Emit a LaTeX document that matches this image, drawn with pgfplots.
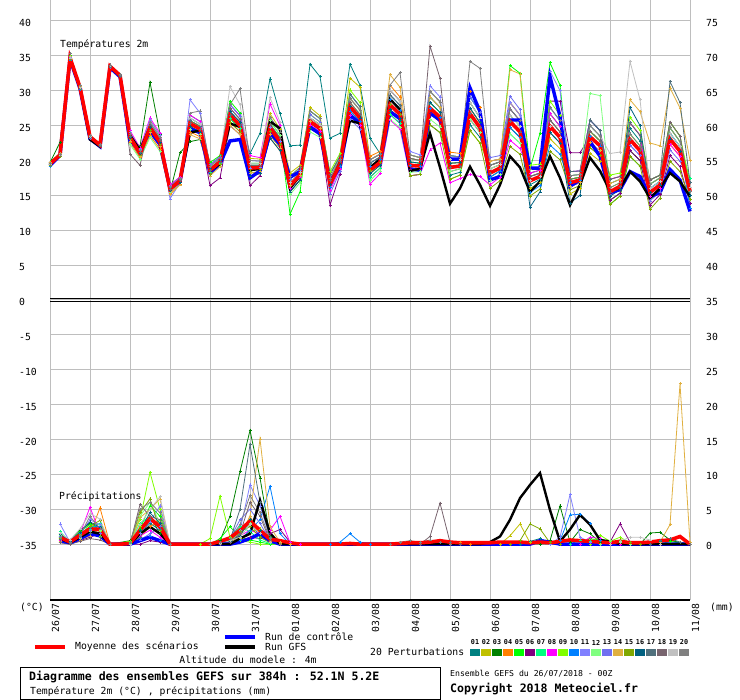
\documentclass[border=0pt]{standalone}
\usepackage{fontspec}
\setmainfont{DejaVu Sans Mono}
\usepackage{pgfplots}
\pgfplotsset{compat=1.18}
\definecolor{c01}{RGB}{0,128,128}
\definecolor{c02}{RGB}{192,192,0}
\definecolor{c03}{RGB}{0,128,0}
\definecolor{c04}{RGB}{255,128,0}
\definecolor{c05}{RGB}{0,255,0}
\definecolor{c06}{RGB}{128,0,128}
\definecolor{c07}{RGB}{0,255,128}
\definecolor{c08}{RGB}{255,0,255}
\definecolor{c09}{RGB}{128,255,0}
\definecolor{c10}{RGB}{0,128,255}
\definecolor{c11}{RGB}{128,128,255}
\definecolor{c12}{RGB}{128,255,128}
\definecolor{c13}{RGB}{112,112,240}
\definecolor{c14}{RGB}{224,176,64}
\definecolor{c15}{RGB}{128,168,0}
\definecolor{c16}{RGB}{0,96,128}
\definecolor{c17}{RGB}{80,112,124}
\definecolor{c18}{RGB}{120,100,110}
\definecolor{c19}{RGB}{192,192,192}
\definecolor{c20}{RGB}{128,128,128}
\definecolor{gridc}{RGB}{190,190,190}
\definecolor{ctrlb}{RGB}{0,0,255}
\newcommand\lab{\fontsize{9.8}{11}\selectfont}
\newcommand\sml{\fontsize{8.2}{10}\selectfont}
\newcommand\bld{\fontsize{11.6}{13}\selectfont\bfseries}
\newcommand\pnum{\fontsize{6.8}{8}\selectfont\bfseries}
\tikzset{dl/.style={rotate=90, anchor=east, inner sep=0pt, font=\lab}}
\pgfplotsset{
  pert/.style={line width=0.8bp, mark=+, mark size=1.5bp, mark options={solid, line width=0.6bp}},
  meanst/.style={red, line width=3.6bp, no marks},
  ctrlst/.style={ctrlb, line width=3.4bp, no marks},
  gfsst/.style={black, line width=2.4bp, no marks},
}
\begin{document}
\begin{tikzpicture}[x=1bp,y=1bp]
\useasboundingbox (0,0) rectangle (740,700);
\begin{axis}[at={(50bp,100bp)}, anchor=south west, scale only axis,
  width=640bp, height=600bp, xmin=0, xmax=64, ymin=-43, ymax=43, clip=false,
  axis line style={draw=none}, major tick length=0pt,
  xtick={0,4,...,64}, xticklabel={\mbox{}},
  ytick={-35,-30,...,40},
  yticklabels={-35,-30,-25,-20,-15,-10,-5,0,5,10,15,20,25,30,35,40},
  yticklabel style={font=\lab, anchor=west, inner sep=0pt, xshift=-31bp, yshift=-2bp},
  grid=major, grid style={draw=gridc, line width=1bp},
  table/row sep=\\, table/header=false, table/x expr=\coordindex, table/y index=0]
\addplot[pert,c01] table {19.6\\20.9\\34.8\\30.6\\23.4\\22.2\\33.5\\32.2\\23.8\\21.4\\25.4\\23.3\\16.5\\17.6\\26.5\\25.6\\19.4\\20.5\\28.0\\26.4\\21.0\\23.9\\31.7\\26.7\\22.1\\22.2\\33.8\\32.0\\23.2\\23.9\\33.8\\30.8\\23.2\\21.0\\27.0\\25.7\\20.3\\20.0\\29.1\\27.6\\17.9\\18.3\\25.1\\23.3\\18.8\\19.4\\26.5\\24.9\\16.5\\17.3\\24.0\\22.5\\18.4\\18.5\\25.8\\24.3\\16.7\\17.3\\24.6\\22.8\\16.0\\17.0\\23.9\\22.0\\15.0\\};
\addplot[pert,c02] table {19.4\\20.7\\34.6\\30.4\\23.5\\22.3\\33.6\\32.3\\24.0\\21.6\\25.8\\23.6\\16.1\\17.3\\25.7\\24.9\\19.2\\20.3\\27.5\\25.9\\20.3\\20.2\\26.7\\24.5\\18.2\\19.3\\27.6\\26.4\\18.0\\20.6\\31.8\\30.5\\20.1\\20.9\\30.1\\28.5\\19.8\\19.6\\28.3\\26.9\\20.1\\20.1\\28.3\\26.1\\19.9\\20.2\\28.3\\26.5\\16.0\\16.8\\23.1\\21.7\\15.2\\16.0\\21.0\\19.9\\16.1\\16.8\\23.8\\22.1\\16.6\\17.5\\24.7\\22.7\\16.2\\};
\addplot[pert,c03] table {19.7\\22.6\\34.9\\30.7\\23.5\\22.3\\33.6\\32.3\\23.3\\22.0\\31.2\\23.8\\15.5\\21.1\\22.7\\23.0\\18.3\\19.6\\26.0\\24.6\\19.3\\19.3\\25.2\\23.2\\15.5\\17.2\\24.6\\23.7\\16.1\\19.1\\27.1\\25.6\\19.6\\20.5\\29.4\\27.9\\17.8\\18.0\\25.1\\24.0\\19.6\\19.7\\27.5\\25.4\\17.6\\18.5\\24.7\\23.3\\18.2\\18.6\\26.7\\24.9\\17.3\\17.6\\24.2\\22.8\\14.3\\15.3\\21.4\\20.0\\17.2\\17.9\\25.5\\23.5\\15.6\\};
\addplot[pert,c04] table {19.5\\20.8\\34.7\\30.5\\23.3\\22.1\\33.4\\32.1\\22.6\\20.4\\23.6\\21.6\\15.3\\16.6\\24.1\\23.4\\18.0\\19.4\\25.5\\24.1\\17.8\\18.1\\23.2\\21.4\\16.8\\18.3\\26.1\\25.1\\17.5\\20.2\\28.9\\27.2\\20.6\\21.3\\30.8\\29.1\\20.8\\20.4\\29.9\\28.4\\21.2\\21.0\\29.9\\27.6\\19.9\\20.2\\28.3\\26.5\\17.7\\18.2\\25.8\\24.1\\17.8\\18.0\\25.0\\23.5\\17.3\\17.7\\25.4\\23.6\\14.8\\16.0\\22.3\\20.6\\16.8\\};
\addplot[pert,c05] table {19.8\\21.0\\35.0\\30.8\\23.4\\22.2\\33.5\\32.2\\23.5\\21.2\\25.1\\22.9\\16.3\\17.4\\26.1\\25.2\\19.7\\20.7\\28.5\\26.8\\19.6\\19.6\\25.7\\23.6\\12.3\\15.5\\26.1\\25.1\\18.0\\20.6\\29.5\\27.7\\19.1\\20.1\\28.7\\27.2\\20.3\\20.0\\29.1\\27.6\\20.7\\20.5\\29.1\\26.9\\19.3\\19.8\\33.6\\32.5\\18.8\\23.9\\34.0\\30.8\\17.3\\17.6\\24.2\\22.8\\13.7\\14.9\\20.6\\19.2\\16.6\\17.5\\24.7\\22.7\\14.4\\};
\addplot[pert,c06] table {19.5\\20.8\\34.7\\30.5\\23.5\\22.3\\33.6\\32.3\\23.1\\20.8\\24.3\\22.3\\15.5\\16.8\\24.5\\23.8\\16.4\\17.5\\25.0\\23.7\\16.4\\17.8\\23.7\\21.8\\15.5\\17.2\\24.6\\23.7\\13.6\\18.0\\26.5\\25.0\\17.6\\18.9\\26.6\\25.3\\18.8\\18.8\\26.7\\25.5\\18.4\\18.8\\25.9\\24.0\\19.3\\19.8\\27.4\\25.7\\17.1\\17.7\\28.5\\28.5\\21.1\\21.1\\23.4\\22.1\\14.3\\15.3\\21.4\\20.0\\13.6\\15.1\\20.7\\19.1\\13.8\\};
\addplot[pert,c07] table {19.3\\20.6\\34.5\\30.3\\23.6\\22.3\\33.7\\32.3\\23.8\\21.4\\25.4\\23.3\\15.9\\17.1\\25.3\\24.5\\18.3\\19.6\\26.0\\24.6\\19.3\\19.3\\25.2\\23.2\\17.7\\19.0\\27.1\\26.0\\17.1\\19.9\\28.3\\26.6\\17.6\\18.9\\26.6\\25.3\\19.8\\19.6\\28.3\\26.9\\20.1\\20.1\\28.3\\26.1\\17.1\\18.0\\23.8\\22.5\\18.8\\19.0\\27.6\\25.7\\17.8\\18.0\\25.0\\23.5\\15.5\\16.3\\23.0\\21.4\\16.0\\17.0\\23.9\\22.0\\17.4\\};
\addplot[pert,c08] table {19.7\\21.0\\34.9\\30.7\\23.3\\22.1\\33.4\\32.1\\24.3\\21.8\\26.1\\23.9\\16.5\\17.6\\26.5\\25.6\\19.4\\20.5\\28.0\\26.4\\20.7\\20.4\\28.1\\25.0\\16.0\\17.6\\25.1\\24.2\\15.7\\18.8\\26.5\\25.0\\16.6\\18.1\\25.8\\24.5\\17.8\\18.0\\21.5\\22.5\\16.8\\17.4\\18.0\\17.7\\16.5\\17.6\\22.9\\21.7\\18.2\\18.6\\26.7\\24.9\\18.4\\18.5\\25.8\\24.3\\17.3\\17.7\\25.4\\23.6\\14.8\\16.0\\22.3\\20.6\\16.2\\};
\addplot[pert,c09] table {19.6\\20.9\\34.8\\30.6\\23.6\\22.3\\33.7\\32.3\\23.3\\21.0\\24.7\\22.6\\16.1\\17.3\\25.7\\24.9\\18.9\\20.0\\27.0\\25.5\\18.2\\18.4\\23.7\\21.8\\17.3\\18.6\\26.6\\25.5\\18.4\\21.0\\30.1\\28.3\\18.1\\19.3\\27.3\\26.0\\20.8\\20.4\\29.9\\28.4\\17.3\\17.9\\24.3\\22.5\\18.8\\19.4\\26.5\\24.9\\19.3\\19.5\\28.5\\26.5\\17.3\\17.6\\24.2\\22.8\\17.9\\18.2\\26.2\\24.3\\17.2\\17.9\\25.5\\23.5\\16.8\\};
\addplot[pert,c10] table {19.2\\20.6\\34.4\\30.2\\23.2\\22.1\\33.3\\32.1\\22.8\\20.6\\24.0\\22.0\\15.7\\16.9\\24.9\\24.1\\18.9\\20.0\\27.0\\25.5\\18.9\\19.0\\24.7\\22.7\\16.4\\17.9\\25.6\\24.6\\16.1\\19.1\\27.1\\25.6\\19.1\\20.1\\28.7\\27.2\\19.3\\19.2\\27.5\\26.2\\20.7\\20.5\\29.1\\26.9\\17.6\\18.5\\24.7\\23.3\\15.4\\16.4\\22.2\\20.9\\16.8\\17.2\\23.4\\22.1\\15.5\\16.3\\23.0\\21.4\\16.0\\17.0\\23.9\\22.0\\13.2\\};
\addplot[pert,c11] table {19.6\\20.9\\34.8\\30.6\\23.6\\22.3\\33.7\\32.3\\24.0\\21.6\\25.8\\23.6\\14.5\\16.8\\28.7\\26.8\\19.2\\20.3\\27.5\\25.9\\18.9\\19.0\\24.7\\22.7\\16.8\\18.3\\26.1\\25.1\\18.0\\20.6\\29.5\\27.7\\19.6\\20.5\\29.4\\27.9\\21.3\\20.8\\30.7\\29.1\\19.0\\19.2\\26.7\\24.7\\19.9\\20.2\\28.3\\26.5\\17.7\\18.1\\32.8\\30.0\\17.8\\18.0\\25.0\\23.5\\14.9\\15.8\\22.2\\20.7\\15.4\\16.5\\23.1\\21.3\\16.2\\};
\addplot[pert,c12] table {19.4\\20.7\\34.6\\30.4\\23.4\\22.2\\33.5\\32.2\\22.3\\20.2\\23.3\\21.3\\15.5\\16.8\\24.5\\23.8\\18.6\\19.8\\26.5\\25.0\\19.6\\19.6\\25.7\\23.6\\15.1\\16.8\\24.1\\23.3\\16.6\\19.5\\27.7\\26.1\\17.1\\18.5\\25.9\\24.7\\18.3\\18.4\\25.9\\24.8\\18.4\\18.8\\25.9\\24.0\\17.1\\18.0\\23.8\\22.5\\17.7\\18.2\\25.8\\24.1\\17.8\\18.0\\29.6\\29.3\\16.1\\16.8\\23.8\\22.1\\16.6\\17.5\\24.7\\22.7\\15.6\\};
\addplot[pert,c13] table {19.5\\20.8\\34.7\\30.5\\23.2\\22.1\\33.3\\32.1\\23.5\\21.2\\25.1\\22.9\\16.3\\17.4\\26.1\\25.2\\19.4\\20.5\\28.0\\26.4\\20.0\\19.9\\26.2\\24.1\\17.3\\18.6\\26.6\\25.5\\15.2\\18.4\\25.9\\24.5\\20.1\\20.9\\30.1\\28.5\\20.3\\20.0\\29.1\\27.6\\20.7\\20.5\\29.1\\26.9\\20.4\\20.7\\29.2\\27.3\\18.8\\19.0\\27.6\\25.7\\16.3\\16.8\\22.6\\21.4\\14.9\\15.8\\22.2\\20.7\\14.2\\15.5\\21.5\\19.9\\16.8\\};
\addplot[pert,c14] table {19.7\\21.0\\34.9\\30.7\\23.4\\22.2\\33.5\\32.2\\22.8\\20.6\\24.0\\22.0\\15.1\\16.5\\23.7\\23.1\\17.8\\19.1\\25.0\\23.7\\18.2\\18.4\\23.7\\21.8\\16.4\\17.9\\25.6\\24.6\\17.1\\19.9\\28.3\\26.6\\20.1\\20.9\\32.3\\30.5\\20.3\\20.0\\29.1\\27.6\\19.6\\19.7\\27.5\\25.4\\19.9\\20.2\\33.0\\32.4\\17.1\\17.7\\24.9\\23.3\\16.3\\16.8\\22.6\\21.4\\16.7\\17.3\\28.7\\27.0\\22.5\\22.1\\30.4\\27.5\\20.0\\};
\addplot[pert,c15] table {19.3\\20.6\\34.5\\30.3\\23.3\\22.1\\33.4\\32.1\\23.1\\20.8\\24.3\\22.3\\16.1\\17.3\\25.7\\24.9\\18.0\\19.4\\25.5\\24.1\\18.5\\18.7\\24.2\\22.3\\16.8\\18.3\\26.1\\25.1\\17.5\\20.2\\28.9\\27.2\\18.6\\19.7\\28.0\\26.6\\17.8\\18.0\\25.1\\24.0\\17.3\\17.9\\24.3\\22.5\\16.0\\17.1\\22.0\\20.9\\14.9\\15.9\\21.3\\20.1\\15.8\\16.4\\21.8\\20.7\\13.7\\14.9\\20.6\\19.2\\13.0\\14.6\\19.9\\18.4\\14.4\\};
\addplot[pert,c16] table {19.4\\20.7\\34.6\\30.4\\23.5\\22.3\\33.6\\32.3\\23.3\\21.0\\24.7\\22.6\\15.7\\16.9\\24.9\\24.1\\18.9\\20.0\\27.0\\25.5\\17.8\\18.1\\23.2\\21.4\\15.5\\17.2\\24.6\\23.7\\16.6\\19.5\\27.7\\26.1\\18.1\\19.3\\27.3\\26.0\\19.8\\19.6\\28.3\\26.9\\19.6\\19.7\\27.5\\25.4\\18.2\\18.9\\25.6\\24.1\\13.3\\15.5\\24.0\\22.5\\13.9\\15.0\\25.8\\24.3\\14.9\\15.8\\27.6\\25.0\\15.4\\16.5\\23.1\\21.3\\15.0\\};
\addplot[pert,c17] table {19.5\\20.8\\34.7\\30.5\\23.3\\22.1\\33.4\\32.1\\23.5\\21.2\\25.1\\22.9\\16.1\\17.3\\25.7\\24.9\\18.6\\19.8\\26.5\\25.0\\19.3\\19.3\\25.2\\23.2\\17.7\\19.0\\27.1\\26.0\\18.0\\20.6\\29.5\\27.7\\19.6\\20.5\\29.4\\27.9\\20.8\\20.4\\29.9\\28.4\\20.1\\20.1\\28.3\\26.1\\19.3\\19.8\\27.4\\25.7\\17.7\\18.2\\25.8\\24.1\\18.4\\18.5\\25.8\\24.3\\17.3\\17.7\\25.4\\23.6\\17.2\\17.9\\31.3\\28.3\\16.8\\};
\addplot[pert,c18] table {19.4\\20.7\\34.6\\30.4\\23.4\\22.2\\33.5\\32.2\\20.9\\19.3\\25.5\\23.0\\15.9\\17.1\\25.3\\24.5\\19.2\\20.3\\27.5\\25.9\\19.3\\19.3\\25.2\\23.2\\16.8\\18.3\\26.1\\25.1\\17.1\\19.9\\28.3\\26.6\\20.1\\20.9\\30.1\\28.5\\20.3\\20.0\\36.4\\31.8\\19.0\\19.2\\26.7\\24.7\\18.2\\18.9\\25.6\\24.1\\17.7\\18.2\\25.8\\24.1\\17.3\\17.6\\24.2\\22.8\\15.5\\16.3\\23.0\\21.4\\17.2\\17.9\\25.5\\23.5\\15.6\\};
\addplot[pert,c19] table {19.5\\20.8\\34.7\\30.5\\23.5\\22.3\\33.6\\32.3\\23.8\\21.4\\25.4\\23.3\\16.3\\17.4\\26.1\\25.2\\19.2\\20.3\\30.6\\28.0\\19.6\\19.6\\29.0\\25.5\\16.8\\18.3\\26.1\\25.1\\17.5\\20.2\\28.9\\27.2\\20.1\\20.9\\30.1\\28.5\\20.8\\20.4\\29.9\\28.4\\20.1\\20.1\\28.3\\26.1\\18.8\\19.4\\26.5\\24.9\\17.1\\17.7\\24.9\\23.3\\17.8\\18.0\\25.0\\23.5\\21.0\\21.2\\34.2\\28.7\\16.0\\17.0\\23.9\\22.0\\16.2\\};
\addplot[pert,c20] table {19.6\\20.9\\35.3\\30.8\\23.6\\22.3\\33.7\\32.3\\23.8\\21.4\\25.4\\23.3\\16.3\\17.4\\26.8\\27.1\\19.2\\20.3\\28.0\\30.3\\20.0\\19.9\\26.2\\24.1\\17.7\\19.0\\27.1\\26.0\\17.5\\20.2\\28.9\\27.2\\20.1\\20.9\\30.8\\32.6\\20.8\\20.4\\29.9\\28.4\\20.7\\20.5\\34.2\\33.2\\19.3\\19.8\\27.4\\25.7\\18.8\\19.0\\27.6\\25.7\\17.8\\18.0\\25.0\\23.5\\16.1\\16.8\\23.8\\22.1\\16.6\\17.5\\24.7\\22.7\\15.6\\};
% control run
\addplot[ctrlst] table {19.3\\20.7\\34.5\\30.3\\23.1\\22.0\\33.3\\32.0\\22.8\\21.5\\24.2\\22.3\\16.0\\17.0\\24.5\\24.0\\18.3\\19.5\\22.8\\23.0\\17.5\\18.5\\24.0\\22.3\\17.6\\18.4\\24.8\\23.8\\17.0\\19.0\\26.5\\25.3\\18.8\\19.5\\27.0\\26.0\\18.8\\18.6\\26.8\\25.8\\20.2\\20.2\\30.4\\27.0\\17.2\\17.7\\25.8\\25.8\\18.9\\18.9\\32.0\\26.3\\16.3\\17.2\\22.7\\20.6\\15.4\\15.8\\18.4\\17.7\\14.8\\15.4\\18.7\\17.2\\12.7\\};
% GFS run
\addplot[gfsst] table {19.4\\20.8\\34.6\\30.4\\23.0\\22.0\\33.4\\32.1\\23.6\\21.5\\24.8\\22.5\\16.0\\17.0\\24.0\\24.3\\18.5\\19.5\\25.3\\24.8\\18.6\\18.8\\25.6\\24.6\\16.0\\17.8\\25.5\\24.5\\16.5\\19.8\\25.7\\25.3\\19.0\\20.2\\28.8\\27.3\\18.5\\18.8\\23.9\\19.0\\13.8\\16.0\\19.1\\16.5\\13.5\\16.5\\20.6\\19.0\\15.5\\17.0\\20.6\\17.5\\13.6\\16.5\\20.4\\18.5\\15.6\\16.0\\18.4\\17.0\\14.6\\16.0\\18.2\\17.0\\14.8\\};
% ensemble mean
\addplot[meanst] table {19.5\\20.8\\34.7\\30.5\\23.4\\22.2\\33.5\\32.2\\23.3\\21.0\\24.7\\22.6\\15.9\\17.1\\25.3\\24.5\\18.6\\19.8\\26.5\\25.0\\18.9\\19.0\\24.7\\22.7\\16.4\\17.9\\25.6\\24.6\\16.6\\19.5\\27.7\\26.1\\18.6\\19.7\\28.0\\26.6\\19.3\\19.2\\27.5\\26.2\\19.0\\19.2\\26.7\\24.7\\18.2\\18.9\\25.6\\24.1\\17.1\\17.7\\24.9\\23.3\\16.8\\17.2\\23.4\\22.1\\15.5\\16.3\\23.0\\21.4\\15.4\\16.5\\23.1\\21.3\\15.6\\};
% zero line and bottom axis
\draw[black, line width=1bp] (axis cs:0,0.15) -- (axis cs:64,0.15);
\draw[black, line width=1bp] (axis cs:0,-0.25) -- (axis cs:64,-0.25);
\draw[black, line width=1.5bp] (axis cs:0,-43) -- (axis cs:64,-43);
% date labels
\node[dl] at (axis cs:0.6,-43.45) {26/07};
\node[dl] at (axis cs:4.6,-43.45) {27/07};
\node[dl] at (axis cs:8.6,-43.45) {28/07};
\node[dl] at (axis cs:12.6,-43.45) {29/07};
\node[dl] at (axis cs:16.6,-43.45) {30/07};
\node[dl] at (axis cs:20.6,-43.45) {31/07};
\node[dl] at (axis cs:24.6,-43.45) {01/08};
\node[dl] at (axis cs:28.6,-43.45) {02/08};
\node[dl] at (axis cs:32.6,-43.45) {03/08};
\node[dl] at (axis cs:36.6,-43.45) {04/08};
\node[dl] at (axis cs:40.6,-43.45) {05/08};
\node[dl] at (axis cs:44.6,-43.45) {06/08};
\node[dl] at (axis cs:48.6,-43.45) {07/08};
\node[dl] at (axis cs:52.6,-43.45) {08/08};
\node[dl] at (axis cs:56.6,-43.45) {09/08};
\node[dl] at (axis cs:60.6,-43.45) {10/08};
\node[dl] at (axis cs:64.6,-43.45) {11/08};
\end{axis}
% precipitation axis (right scale, mm)
\begin{axis}[at={(50bp,100bp)}, anchor=south west, scale only axis,
  width=640bp, height=600bp, xmin=0, xmax=64, ymin=-8, ymax=78, clip=false,
  axis line style={draw=none}, major tick length=0pt,
  xtick=\empty, xticklabel={\mbox{}}, ytick={0,5,...,75}, yticklabel pos=right,
  yticklabels={0,5,10,15,20,25,30,35,40,45,50,55,60,65,70,75},
  yticklabel style={font=\lab, anchor=west, inner sep=0pt, xshift=16bp, yshift=-2bp}]
\addplot[pert,c01] coordinates {(1,1.0)(2,0.2)(3,1.5)(4,2.0)(5,2.5)(6,0)(8,0.2)(9,1.5)(10,3.0)(11,2.0)(12,0)(16,0)(17,0.2)(18,0.5)(19,1.5)(20,3.0)(21,1.2)(22,0.3)(23,0)(47,0)(48,0.4)(49,0.8)(50,0.2)(51,0)(60,0)(61,0.4)(62,0.6)(63,0.2)(64,0)};
\addplot[pert,c02] coordinates {(1,0.8)(2,0)(3,1.0)(4,2.5)(5,1.8)(6,0)(8,0)(9,2.5)(10,3.5)(11,3.0)(12,0)(17,0)(18,0.3)(19,0.8)(20,1.8)(21,2.2)(22,0.5)(23,0.2)(24,0)(45,0)(46,1.2)(47,2.9)(48,0.2)(49,0)(64,0)};
\addplot[pert,c03] coordinates {(1,1.5)(2,0.5)(3,2.0)(4,3.0)(5,2.2)(6,0)(8,0.5)(9,1.8)(10,4.0)(11,1.5)(12,0)(16,0)(17,0.5)(18,4.0)(19,10.4)(20,16.3)(21,9.5)(22,1.2)(23,0)(49,0)(50,0.5)(51,5.5)(52,0.3)(53,2.1)(54,1.5)(55,0.3)(56,0)(59,0)(60,1.6)(61,1.7)(62,0.6)(63,0.2)(64,0)};
\addplot[pert,c04] coordinates {(1,0.5)(2,0.3)(3,1.2)(4,1.5)(5,5.2)(6,0)(8,0)(9,1.0)(10,2.5)(11,3.5)(12,0)(16,0)(17,0.1)(18,0.8)(19,1.2)(20,4.0)(21,1.5)(22,0.4)(23,0.1)(24,0)(40,0)(41,0.3)(42,0)(64,0)};
\addplot[pert,c05] coordinates {(1,1.2)(2,0.4)(3,1.8)(4,2.8)(5,2.0)(6,0)(8,0.3)(9,2.2)(10,5.5)(11,4.0)(12,0)(16,0)(17,0.8)(18,2.5)(19,1.0)(20,0.6)(21,0.3)(22,0)(53,0)(54,0.8)(55,0.5)(56,0)(61,0)(62,0.4)(63,0.2)(64,0)};
\addplot[pert,c06] coordinates {(1,0.3)(2,0)(3,0.5)(4,1.0)(5,1.5)(6,0)(9,0)(10,0.5)(11,0.3)(12,0)(17,0)(18,0.2)(19,0.5)(20,1.0)(21,0.8)(22,1.5)(23,2.1)(24,0.3)(25,0)(55,0)(56,0.3)(57,2.9)(58,0.3)(59,0)(64,0)};
\addplot[pert,c07] coordinates {(1,1.8)(2,0.3)(3,1.0)(4,2.2)(5,3.0)(6,0)(8,0.1)(9,3.0)(10,4.0)(11,2.5)(12,0)(16,0)(17,0.3)(18,1.0)(19,2.5)(20,1.8)(21,0.6)(22,0.1)(23,0)(52,0)(53,0.6)(54,0.4)(55,0)(64,0)};
\addplot[pert,c08] coordinates {(1,0.6)(2,0.2)(3,1.5)(4,5.3)(5,1.5)(6,0)(8,0)(9,1.2)(10,2.0)(11,1.0)(12,0)(16,0)(17,0.2)(18,0.6)(19,1.2)(20,2.0)(21,1.5)(22,2.0)(23,4.0)(24,0.2)(25,0)(53,0)(54,1.0)(55,0.8)(56,0.2)(57,0)(64,0)};
\addplot[pert,c09] coordinates {(1,1.0)(2,0.1)(3,1.2)(4,2.0)(5,1.2)(6,0)(8,0.4)(9,3.5)(10,10.3)(11,5.0)(12,0)(15,0)(16,0.8)(17,6.9)(18,1.0)(19,0.5)(20,0.3)(21,0)(54,0)(55,1.3)(56,0.4)(57,1.0)(58,0.2)(59,0)(64,0)};
\addplot[pert,c10] coordinates {(1,0.8)(2,0.6)(3,1.6)(4,2.4)(5,2.6)(6,0)(8,0)(9,0.8)(10,1.2)(11,0.5)(12,0)(17,0)(18,0.2)(19,0.6)(20,2.0)(21,3.5)(22,8.3)(23,1.5)(24,0)(28,0)(29,0.3)(30,1.5)(31,0.3)(32,0)(50,0)(51,0.5)(52,4.2)(53,4.3)(54,3.0)(55,0.5)(56,0)(64,0)};
\addplot[pert,c11] coordinates {(1,2.9)(2,0.3)(3,1.4)(4,3.5)(5,2.8)(6,0)(8,0)(9,1.5)(10,3.2)(11,5.5)(12,0)(16,0)(17,0.1)(18,0.5)(19,2.0)(20,8.5)(21,5.5)(22,1.0)(23,0)(50,0)(51,1.0)(52,7.1)(53,1.0)(54,0.3)(55,0)(64,0)};
\addplot[pert,c12] coordinates {(1,1.3)(2,0)(3,0.8)(4,1.8)(5,2.0)(6,0)(8,0.2)(9,4.0)(10,6.0)(11,3.0)(12,0)(17,0)(18,0.4)(19,1.6)(20,3.0)(21,2.0)(22,0.8)(23,0)(55,0)(56,0.5)(57,0.3)(58,0)(64,0)};
\addplot[pert,c13] coordinates {(1,1.1)(2,0.5)(3,1.0)(4,2.0)(5,1.6)(6,0)(8,0)(9,0.6)(10,1.5)(11,2.5)(12,0)(16,0)(17,0.2)(18,0.8)(19,3.5)(20,5.0)(21,3.0)(22,0.5)(23,0)(64,0)};
\addplot[pert,c14] coordinates {(1,0.4)(2,0)(3,0.6)(4,1.2)(5,2.2)(6,0)(8,0)(9,3.8)(10,5.0)(11,6.5)(12,0)(17,0)(18,0.4)(19,1.0)(20,4.0)(21,15.1)(22,2.5)(23,0.3)(24,0)(60,0)(61,0.3)(62,2.8)(63,23.0)(64,0.2)};
\addplot[pert,c15] coordinates {(1,0.9)(2,0.2)(3,1.4)(4,2.6)(5,3.4)(6,0)(8,0.3)(9,4.5)(10,6.5)(11,2.0)(12,0)(16,0)(17,0.2)(18,0.6)(19,1.8)(20,2.5)(21,1.0)(22,0.2)(23,0)(46,0)(47,0.5)(48,2.9)(49,2.2)(50,0.2)(51,0)(56,0)(57,0.6)(58,0.3)(59,0)(64,0)};
\addplot[pert,c16] coordinates {(1,1.4)(2,0.4)(3,1.7)(4,3.2)(5,2.4)(6,0)(8,0)(9,2.0)(10,4.5)(11,3.0)(12,0)(16,0)(17,0.1)(18,0.4)(19,1.2)(20,3.5)(21,2.0)(22,0.5)(23,0)(64,0)};
\addplot[pert,c17] coordinates {(1,0.7)(2,0.1)(3,1.1)(4,1.6)(5,1.0)(6,0)(8,0)(9,1.0)(10,3.5)(11,2.2)(12,0)(17,0)(18,0.6)(19,5.0)(20,14.3)(21,6.0)(22,1.0)(23,0)(60,0)(61,0.5)(62,0.8)(63,0.3)(64,0)};
\addplot[pert,c18] coordinates {(1,0.2)(2,0)(3,0.4)(4,0.8)(5,0.6)(6,0)(8,0)(9,5.7)(10,4.0)(11,3.5)(12,0)(17,0)(18,0.3)(19,1.5)(20,6.0)(21,4.0)(22,0.5)(23,0)(37,0)(38,1.1)(39,5.9)(40,0.3)(41,0)(64,0)};
\addplot[pert,c19] coordinates {(1,1.6)(2,0.6)(3,2.2)(4,4.4)(5,3.6)(6,0)(8,0)(9,2.8)(10,5.0)(11,6.8)(12,0)(16,0)(17,0.1)(18,0.5)(19,1.0)(20,2.8)(21,1.5)(22,0.3)(23,0)(56,0)(57,0.4)(58,1.0)(59,1.0)(60,0.6)(61,0)(64,0)};
\addplot[pert,c20] coordinates {(1,1.0)(2,0.3)(3,1.3)(4,4.0)(5,2.2)(6,0)(8,0.2)(9,5.0)(10,6.0)(11,4.5)(12,0)(16,0)(17,0.2)(18,0.8)(19,2.8)(20,7.0)(21,4.5)(22,0.8)(23,0)(34,0)(35,0.3)(36,0.5)(37,0.3)(38,0.6)(39,0.2)(40,0)(64,0)};
\addplot[ctrlst] coordinates {(1,0.5)(2,0.2)(3,0.8)(4,1.5)(5,1.2)(6,0)(8,0)(9,0.5)(10,1.0)(11,0.5)(12,0)(18,0)(19,0.3)(20,0.8)(21,1.5)(22,0.5)(23,0)(48,0)(49,0.5)(50,0.3)(51,0)(64,0)};
\addplot[gfsst] coordinates {(1,0.8)(2,0.2)(3,1.0)(4,1.8)(5,1.5)(6,0)(8,0)(9,1.5)(10,2.5)(11,1.5)(12,0)(18,0)(19,0.8)(20,1.5)(21,6.3)(22,1.6)(23,0)(43,0)(44,0.3)(45,1.1)(46,3.5)(47,6.6)(48,8.5)(49,10.2)(50,4.9)(51,0.4)(52,2.1)(53,4.2)(54,2.8)(55,0.6)(56,0.4)(57,0)(64,0)};
\addplot[meanst] coordinates {(1,1.0)(2,0.3)(3,1.3)(4,2.2)(5,2.1)(6,0)(7,0)(8,0.1)(9,2.0)(10,3.7)(11,2.5)(12,0)(16,0)(17,0.4)(18,0.9)(19,2.0)(20,3.3)(21,2.0)(22,0.7)(23,0.5)(24,0.2)(25,0)(29,0)(30,0.1)(31,0)(34,0)(35,0.1)(36,0.2)(37,0.2)(38,0.3)(39,0.5)(40,0.3)(41,0.2)(42,0.2)(43,0.2)(44,0.2)(45,0.3)(46,0.3)(47,0.3)(48,0.2)(49,0.3)(50,0.2)(51,0.4)(52,0.6)(53,0.5)(54,0.4)(55,0.3)(56,0.2)(57,0.4)(58,0.2)(59,0.2)(60,0.3)(61,0.5)(62,0.6)(63,1.1)(64,0)};
\end{axis}
% in-plot titles
\node[anchor=west, inner sep=0pt, font=\lab] at (60,655) {Températures 2m};
\node[anchor=west, inner sep=0pt, font=\lab] at (59,203) {Précipitations};
\node[anchor=west, inner sep=0pt, font=\lab] at (20,93) {(°C)};
\node[anchor=west, inner sep=0pt, font=\lab] at (710,93) {(mm)};
% legend
\draw[red, line width=3.8bp] (35,53) -- (65,53);
\node[anchor=west, inner sep=0pt, font=\lab] at (75,53) {Moyenne des scénarios};
\draw[ctrlb, line width=3.8bp] (225,63) -- (255,63);
\node[anchor=west, inner sep=0pt, font=\lab] at (265,63) {Run de contrôle};
\draw[black, line width=3.8bp] (225,53) -- (255,53);
\node[anchor=west, inner sep=0pt, font=\lab] at (265,53) {Run GFS};
\node[inner sep=0pt, font=\lab] at (248,40) {Altitude du modele : 4m};
\draw[black, line width=1.2bp] (20.5,0.6) rectangle (440.5,32.7);
\node[anchor=west, inner sep=0pt, font=\bld] at (29,23) {Diagramme des ensembles GEFS sur 384h : 52.1N 5.2E};
\node[anchor=west, inner sep=0pt, font=\lab] at (30,8) {Température 2m (°C) , précipitations (mm)};
\node[anchor=west, inner sep=0pt, font=\lab] at (370,48) {20 Perturbations};
\foreach \k/\n in {1/01,2/02,3/03,4/04,5/05,6/06,7/07,8/08,9/09,10/10,11/11,12/12,13/13,14/14,15/15,16/16,17/17,18/18,19/19,20/20}{
  \fill[c\n] ({470+11*(\k-1)},44) rectangle ++(10,7);
  \node[inner sep=0pt, font=\pnum] at ({475+11*(\k-1)},57.5) {\n};
}
\node[anchor=west, inner sep=0pt, font=\sml] at (450,26) {Ensemble GEFS du 26/07/2018 - 00Z};
\node[anchor=west, inner sep=0pt, font=\bld] at (450,11) {Copyright 2018 Meteociel.fr};
\end{tikzpicture}
\end{document}
